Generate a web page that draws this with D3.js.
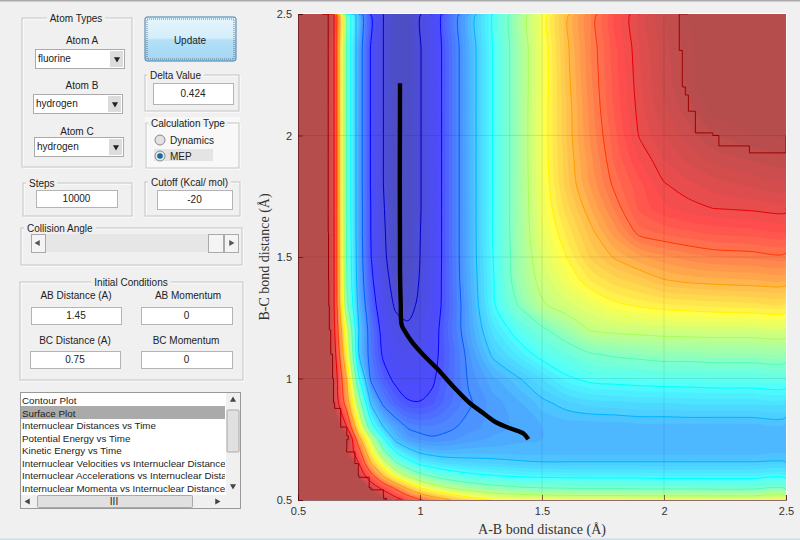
<!DOCTYPE html>
<html>
<head>
<meta charset="utf-8">
<script src="https://cdn.jsdelivr.net/npm/d3@7"></script>
<style>
  html, body { margin: 0; padding: 0; background: #f0f0f0; }
  svg { display: block; }
  text { font-family: "Liberation Sans", Arial, sans-serif; font-size: 10px; fill: #222; }
</style>
</head>
<body>
<div id="body"></div>
<script>
// bond distances of the surface grid (not evenly spaced, tighter in the steep part)
var rabNodes = [.5,.6,.65,.7,.75,.8,.85,.9,.95,1,1.05,1.1,1.2,1.3,1.4,1.5,1.6,1.7,1.8,1.9,2,2.1,2.2,2.35,2.5];
var rbcNodes = [.5,.55,.6,.65,.7,.75,.8,.9,1,1.1,1.2,1.3,1.4,1.5,1.6,1.7,1.8,1.9,2,2.1,2.2,2.35,2.5];

// energy, in contour-level units, one row per rbcNodes entry
var energyRows = [
  [20,20,20,20,18,14,12.2,11.4,10.7,10.1,9.6,9.2,8.45,7.95,7.8,7.7,7.65,7.65,7.65,7.6,7.6,7.6,7.6,7.6,7.6],
  [20,20,20,20,14,11.6,10.7,9.8,8.85,8,7.5,7.1,6.6,6.3,6.1,6,5.95,5.9,5.9,5.85,5.85,5.85,5.8,5.8,5.8],
  [20,20,20,17,11.7,10.3,8.9,7.7,6.9,6.3,5.9,5.6,5.2,5.02,4.9,4.85,4.8,4.8,4.8,4.8,4.75,4.75,4.75,4.75,4.75],
  [20,20,18,14,11,9,7.5,6.2,5.4,4.85,4.6,4.4,4.25,4.2,4.1,4.05,4.05,4.05,4.05,4.05,4.05,4.05,4.05,4.05,4.05],
  [20,20,16,11.9,10.3,8,6.2,4.9,4.25,3.85,3.7,3.65,3.7,3.7,3.7,3.7,3.7,3.7,3.7,3.7,3.7,3.7,3.7,3.7,3.7],
  [20,19,14.5,12.4,9.3,7.1,5.1,3.8,3.35,3.15,3.05,3.1,3.3,3.45,3.55,3.6,3.6,3.6,3.6,3.6,3.6,3.6,3.6,3.6,3.6],
  [20,17,13,11,8.1,5.4,4,3.4,2.95,2.85,2.85,2.9,3.1,3.3,3.45,3.6,3.65,3.65,3.65,3.7,3.7,3.7,3.7,3.7,3.7],
  [20,15,11.7,9.5,6.5,3.85,2.85,2.35,2.05,2.02,2.15,2.45,2.95,3.3,3.55,3.9,4.15,4.3,4.35,4.4,4.4,4.45,4.45,4.45,4.45],
  [20,14,11.6,8.9,5.1,2.85,2.25,1.85,1.7,1.75,1.9,2.3,3.05,3.55,3.95,4.4,4.9,5.15,5.2,5.25,5.3,5.3,5.35,5.35,5.35],
  [20,13.5,11.3,8,4,2.65,1.9,1.55,1.45,1.55,1.8,2.2,3.15,4.1,4.65,5.2,5.55,5.95,6.1,6.2,6.3,6.3,6.35,6.35,6.35],
  [20,13.3,11,7.4,4,2.6,1.75,1.3,1.15,1.35,1.7,2.25,3.35,4.5,5.25,5.85,6.45,7.03,7.15,7.2,7.25,7.28,7.3,7.3,7.3],
  [20,13.2,10.9,6.3,3.7,2.35,1.5,.9,.75,1.15,1.6,2.15,3.4,4.9,6,6.9,7.3,7.6,7.9,8.05,8.15,8.2,8.25,8.3,8.3],
  [20,13.1,10.9,6,3.5,2.15,1.3,.7,.55,1.05,1.55,2.15,3.5,4.95,6.35,7.2,7.7,8.2,8.5,8.7,8.95,9.05,9.1,9.15,9.15],
  [20,13.1,10.9,5.9,3.45,2,1.15,.55,.45,1,1.5,2.15,3.55,5,6.4,7.4,8,8.65,9.05,9.35,9.55,9.7,9.8,9.85,9.9],
  [20,13,10.9,5.85,3.4,1.95,1.1,.5,.4,.98,1.5,2.15,3.55,5.05,6.45,7.55,8.25,8.9,9.5,10.1,10.25,10.35,10.45,10.5,10.55],
  [20,13,10.9,5.8,3.4,1.95,1.05,.45,.4,.95,1.5,2.15,3.55,5.05,6.45,7.65,8.5,9.2,9.85,10.45,10.75,10.9,11,11.05,11.1],
  [20,13,10.9,5.8,3.4,1.9,1,.4,.4,.95,1.5,2.15,3.55,5.05,6.45,7.7,8.7,9.45,10.1,10.55,10.98,11.15,11.3,11.45,11.55],
  [20,13,10.9,5.8,3.4,1.9,1,.4,.4,.95,1.5,2.15,3.55,5.05,6.45,7.75,8.75,9.55,10.25,10.8,11.2,11.45,11.65,11.8,11.9],
  [20,13,10.9,5.8,3.4,1.9,1,.4,.4,.95,1.5,2.15,3.55,5.05,6.45,7.75,8.8,9.65,10.35,11.03,11.4,11.7,11.97,12.15,12.25],
  [20,13,10.9,5.8,3.4,1.9,1,.4,.4,.95,1.5,2.15,3.55,5.05,6.45,7.75,8.8,9.7,10.45,11.1,11.55,11.9,12.25,12.5,12.6],
  [20,13,10.9,5.8,3.4,1.9,1,.4,.4,.95,1.5,2.15,3.55,5.05,6.45,7.7,8.85,9.75,10.5,11.15,11.65,12.05,12.45,12.85,12.95],
  [20,13,10.9,5.8,3.4,1.9,1,.4,.4,.95,1.5,2.15,3.55,5.05,6.45,7.7,8.9,9.8,10.55,11.2,11.7,12.1,12.5,13,13.2],
  [20,13,10.9,5.8,3.4,1.9,1,.4,.4,.95,1.5,2.15,3.55,5.05,6.45,7.7,8.9,9.8,10.6,11.25,11.75,12.15,12.5,13,13.4]
];

// minimum energy path, from the start point up the exit valley
var mepAB = [1.444,1.424,1.369,1.315,1.26,1.205,1.137,1.069,1.014,.966,.939,.925,.921,.918,.918];
var mepBC = [.75,.774,.795,.818,.857,.898,.966,1.042,1.097,1.152,1.193,1.22,1.309,1.446,2.215];

var axisTicks = [.5,1,1.5,2,2.5];
var contourLevels = d3.range(1, 13);
var levelColorPos = [0,.07,.13,.215,.30,.375,.45,.54,.635,.72,.82,.90,.97,1];
var atomNames = ["fluorine","hydrogen","hydrogen"];
var plotList = ["Contour Plot","Surface Plot","Internuclear Distances vs Time","Potential Energy vs Time",
  "Kinetic Energy vs Time","Internuclear Velocities vs Internuclear Distance",
  "Internuclear Accelerations vs Internuclear Distance","Internuclear Momenta vs Internuclear Distance"];

var width = 800, height = 540;
var plot = {left: 298, right: 786, top: 14, bottom: 500};

var svg = d3.select("#body").append("svg")
    .attr("width", width)
    .attr("height", height);

var defs = svg.append("defs");
defs.append("clipPath").attr("id", "plotclip").append("rect")
    .attr("x", plot.left).attr("y", plot.top)
    .attr("width", plot.right - plot.left).attr("height", plot.bottom - plot.top);
var grad = defs.append("linearGradient").attr("id", "btn").attr("x2", 0).attr("y2", 1);
grad.append("stop").attr("offset", "0").attr("stop-color", "#e6f5fd");
grad.append("stop").attr("offset", ".48").attr("stop-color", "#d3eefb");
grad.append("stop").attr("offset", ".52").attr("stop-color", "#b4e0f8");
grad.append("stop").attr("offset", "1").attr("stop-color", "#a4d6f3");

// ---- surface ----
var x = d3.scaleLinear().domain([.5, 2.5]).range([plot.left, plot.right]);
var y = d3.scaleLinear().domain([.5, 2.5]).range([plot.bottom, plot.top]);

var jet = d3.scaleLinear()
    .domain([0, .125, .375, .625, .875, 1])
    .range(["#00008f", "#0000ff", "#00ffff", "#ffff00", "#ff0000", "#800000"])
    .clamp(true);
var levelToT = d3.scaleLinear().domain(d3.range(0, 14)).range(levelColorPos).clamp(true);
var washed = d => d3.interpolateRgb(jet(levelToT(d)), "#fff")(.3);

// grid index -> distance, d3.contours puts value i at coordinate i + .5
var ixAB = d3.scaleLinear().domain(rabNodes.map((d, i) => i + .5)).range(rabNodes).clamp(true);
var ixBC = d3.scaleLinear().domain(rbcNodes.map((d, i) => i + .5)).range(rbcNodes).clamp(true);
var px = p => [x(ixAB(p[0])), y(ixBC(p[1]))];

var nx = rabNodes.length, ny = rbcNodes.length;
var flat = energyRows.flat();

var bandStep = .2;
var bands = d3.range(0, 12.4, bandStep);
var closedRing = d3.line().curve(d3.curveCatmullRomClosed.alpha(.5));
var openLine = d3.line().curve(d3.curveCatmullRom.alpha(.5));
var stairLine = d3.line().curve(d3.curveStepAfter);

function fillPath(geom) {
  var out = "";
  geom.coordinates.forEach(poly => poly.forEach(ring => {
    out += closedRing(ring.slice(0, -1).map(px));
  }));
  return out;
}

var surface = svg.append("g").attr("clip-path", "url(#plotclip)");
surface.append("rect")
    .attr("x", plot.left).attr("y", plot.top)
    .attr("width", plot.right - plot.left).attr("height", plot.bottom - plot.top)
    .style("fill", washed(0));
surface.selectAll(".band")
    .data(d3.contours().size([nx, ny]).thresholds(bands)(flat))
  .enter().append("path")
    .attr("d", fillPath)
    .style("fill", d => washed(d.value + bandStep / 2));

// contour lines: same rings, minus the stretches that only run round the grid border
function linePath(geom) {
  var out = "";
  var edge = p => p[0] <= 0 || p[0] >= nx || p[1] <= 0 || p[1] >= ny;
  var gen = geom.value === 12 ? stairLine : openLine;
  geom.coordinates.forEach(poly => poly.forEach(ring => {
    var piece = [];
    for (var i = 1; i < ring.length; i++) {
      if (edge(ring[i - 1]) && edge(ring[i])) {
        if (piece.length) out += gen(piece.map(px));
        piece = [];
        continue;
      }
      if (!piece.length) piece.push(ring[i - 1]);
      piece.push(ring[i]);
    }
    if (piece.length) out += gen(piece.map(px));
  }));
  return out;
}
surface.selectAll(".level")
    .data(d3.contours().size([nx, ny]).thresholds(contourLevels)(flat))
  .enter().append("path")
    .attr("d", linePath)
    .style("fill", "none")
    .style("stroke", d => jet(levelToT(d.value)))
    .style("stroke-width", 1);

// ---- axes, they show through the surface only faintly ----
var grid = svg.append("g").style("stroke", "#000").style("stroke-opacity", .09).style("stroke-width", 1);
axisTicks.slice(1, -1).forEach(t => {
  grid.append("line").attr("x1", x(t)).attr("x2", x(t)).attr("y1", plot.top).attr("y2", plot.bottom);
  grid.append("line").attr("x1", plot.left).attr("x2", plot.right).attr("y1", y(t)).attr("y2", y(t));
});
svg.append("path")
    .attr("d", `M${plot.left},${plot.top - .5}H${plot.right + .5}V${plot.bottom}`)
    .style("fill", "none").style("stroke", "#fff");

var xAxis = svg.append("g").attr("transform", `translate(0,${plot.bottom})`)
    .call(d3.axisBottom(x).tickValues(axisTicks).tickFormat(d3.format("~g")).tickSize(-5).tickPadding(7));
var yAxis = svg.append("g").attr("transform", `translate(${plot.left},0)`)
    .call(d3.axisLeft(y).tickValues(axisTicks).tickFormat(d3.format("~g")).tickSize(-5).tickPadding(6));
[xAxis, yAxis].forEach(a => {
  a.selectAll(".tick line").style("stroke", "#500").style("stroke-opacity", .6);
  a.select(".domain").style("stroke", "#400").style("stroke-opacity", .55);
  a.selectAll("text").style("font-size", "11px").style("fill", "#333").style("font-family", "'Liberation Sans', sans-serif");
});

svg.append("text").attr("x", 542).attr("y", 534).attr("text-anchor", "middle")
    .style("font-family", "'Liberation Serif', serif").style("font-size", "14px").style("fill", "#333")
    .text("A-B bond distance (Å)");
svg.append("text").attr("transform", "translate(269,257) rotate(-90)").attr("text-anchor", "middle")
    .style("font-family", "'Liberation Serif', serif").style("font-size", "14px").style("fill", "#333")
    .text("B-C bond distance (Å)");

// ---- reaction path ----
var mepLine = d3.line().x(d => x(d[0])).y(d => y(d[1])).curve(d3.curveCatmullRom.alpha(.5));
svg.append("path")
    .datum(d3.zip(mepAB, mepBC))
    .attr("d", mepLine)
    .style("fill", "none").style("stroke", "#000")
    .style("stroke-width", 4.4).style("stroke-linejoin", "round");

// ---- the GUI on the left ----
var gui = svg.append("g");

function label(tx, ty, s, anchor) {
  return gui.append("text").attr("x", tx).attr("y", ty + 3.5)
      .attr("text-anchor", anchor || "middle").text(s);
}
function panel(x0, y0, x1, y1, title, tx, anchor) {
  gui.append("rect").attr("x", x0 + 1).attr("y", y0 + 1).attr("width", x1 - x0).attr("height", y1 - y0)
      .style("fill", "none").style("stroke", "#fff");
  gui.append("rect").attr("x", x0).attr("y", y0).attr("width", x1 - x0).attr("height", y1 - y0)
      .style("fill", "none").style("stroke", "#c4c4c4");
  var t = label(tx, y0, title, anchor);
  var w = t.node().getComputedTextLength();
  var left = anchor === "start" ? tx : tx - w / 2;
  gui.insert("rect", "text:last-child").attr("x", left - 3).attr("y", y0 - 2).attr("width", w + 6).attr("height", 5)
      .style("fill", "#f0f0f0");
}
function field(x0, y0, x1, y1, s) {
  gui.append("rect").attr("x", x0 + .5).attr("y", y0 + .5).attr("width", x1 - x0).attr("height", y1 - y0)
      .style("fill", "#fff").style("stroke", "#b4b4b4");
  label((x0 + x1) / 2, (y0 + y1) / 2, s);
}
function arrow(cx, cy, rot, col) {
  gui.append("path").attr("d", d3.symbol(d3.symbolTriangle, 16)())
      .attr("transform", `translate(${cx},${cy}) rotate(${rot})`)
      .style("fill", col || "#222");
}
function dropdown(x0, y0, x1, y1, s) {
  gui.append("rect").attr("x", x0 + .5).attr("y", y0 + .5).attr("width", x1 - x0).attr("height", y1 - y0)
      .style("fill", "#fff").style("stroke", "#aaa");
  gui.append("rect").attr("x", x1 - 14).attr("y", y0 + 2).attr("width", 13).attr("height", y1 - y0 - 3)
      .style("fill", "#dcdcdc");
  label(x0 + 3, (y0 + y1) / 2, s, "start");
  arrow(x1 - 7, (y0 + y1) / 2 + .5, 180);
}

gui.append("rect").attr("width", width).attr("height", 1.5).style("fill", "#aaa");

panel(22, 18, 132, 167, "Atom Types", 76);
label(82, 40, "Atom A");
dropdown(35, 49, 124, 68, atomNames[0]);
label(82, 85, "Atom B");
dropdown(33, 94, 122, 113, atomNames[1]);
label(77, 131, "Atom C");
dropdown(34, 137, 123, 156, atomNames[2]);

gui.append("rect").attr("x", 145).attr("y", 17).attr("width", 91).attr("height", 44).attr("rx", 2)
    .style("fill", "url(#btn)").style("stroke", "#3c7fb1");
gui.append("rect").attr("x", 147).attr("y", 19).attr("width", 87).attr("height", 40)
    .style("fill", "none").style("stroke", "#333").style("stroke-dasharray", "1,1").style("stroke-opacity", .6);
label(190, 40, "Update");

panel(145, 75, 239, 111, "Delta Value", 150, "start");
field(153, 83, 233, 104, "0.424");

gui.append("rect").attr("x", 145).attr("y", 117).attr("width", 95).attr("height", 52).style("fill", "#fff").style("opacity", .55);
panel(146, 123, 239, 168, "Calculation Type", 151, "start");
gui.append("rect").attr("x", 154).attr("y", 149).attr("width", 59).attr("height", 12).style("fill", "#e4e4e4");
gui.append("circle").attr("cx", 160).attr("cy", 140).attr("r", 5).style("fill", "#e2e2e2").style("stroke", "#888");
gui.append("circle").attr("cx", 160).attr("cy", 156).attr("r", 5).style("fill", "#e8e8e8").style("stroke", "#888");
gui.append("circle").attr("cx", 160).attr("cy", 156).attr("r", 2.8).style("fill", "#14699e");
label(170, 140, "Dynamics", "start");
label(170, 156, "MEP", "start");

panel(23, 183, 132, 216, "Steps", 29, "start");
field(36, 190, 117, 207, "10000");
panel(145, 182, 240, 216, "Cutoff (Kcal/ mol)", 151, "start");
field(157, 190, 232, 209, "-20");

panel(21, 228, 242, 265, "Collision Angle", 27, "start");
gui.append("rect").attr("x", 31).attr("y", 234).attr("width", 208).attr("height", 18).style("fill", "#e6e6e6");
gui.append("rect").attr("x", 31.5).attr("y", 234.5).attr("width", 14).attr("height", 18).style("fill", "#f4f4f4").style("stroke", "#aaa");
gui.append("rect").attr("x", 208.5).attr("y", 234.5).attr("width", 15).attr("height", 18).style("fill", "#f4f4f4").style("stroke", "#aaa");
gui.append("rect").attr("x", 224.5).attr("y", 234.5).attr("width", 14).attr("height", 18).style("fill", "#f4f4f4").style("stroke", "#aaa");
arrow(38, 243, -90, "#555");
arrow(231, 243, 90, "#555");

panel(20, 282, 243, 380, "Initial Conditions", 131);
label(76, 295, "AB Distance (A)");
field(31, 307, 121, 324, "1.45");
label(188, 295, "AB Momentum");
field(141, 307, 232, 324, "0");
label(75, 340, "BC Distance (A)");
field(30, 351, 120, 368, "0.75");
label(186, 340, "BC Momentum");
field(141, 351, 232, 368, "0");

// list box
gui.append("rect").attr("x", 20.5).attr("y", 392.5).attr("width", 220).attr("height", 116)
    .style("fill", "#fff").style("stroke", "#999");
gui.append("rect").attr("x", 21).attr("y", 406).attr("width", 204).attr("height", 13).style("fill", "#aaa");
var listY = d3.scalePoint().domain(plotList).range([400.5, 488.5]);
defs.append("clipPath").attr("id", "listclip").append("rect")
    .attr("x", 21).attr("y", 393).attr("width", 204).attr("height", 102);
gui.append("g").attr("clip-path", "url(#listclip)").selectAll("text")
    .data(plotList)
  .enter().append("text")
    .attr("x", 22).attr("y", d => listY(d) + 3.5)
    .style("font-size", "9.8px")
    .text(d => d);
gui.append("rect").attr("x", 226).attr("y", 393).attr("width", 14).attr("height", 102).style("fill", "#f0f0f0");
gui.append("rect").attr("x", 227).attr("y", 410).attr("width", 12).attr("height", 42).attr("rx", 1)
    .style("fill", "#e0e0e0").style("stroke", "#aaa");
arrow(233, 400, 0, "#444");
arrow(233, 486, 180, "#444");
gui.append("rect").attr("x", 21).attr("y", 495).attr("width", 219).attr("height", 13).style("fill", "#f0f0f0");
gui.append("rect").attr("x", 37.5).attr("y", 495.5).attr("width", 155).attr("height", 12).attr("rx", 1)
    .style("fill", "#e0e0e0").style("stroke", "#aaa");
arrow(28, 501.5, -90, "#444");
arrow(217, 501.5, 90, "#444");
label(114, 501, "III");
gui.append("rect").attr("y", 538.5).attr("width", width).attr("height", 1.5).style("fill", "#cfdde6");
</script>
</body>
</html>
